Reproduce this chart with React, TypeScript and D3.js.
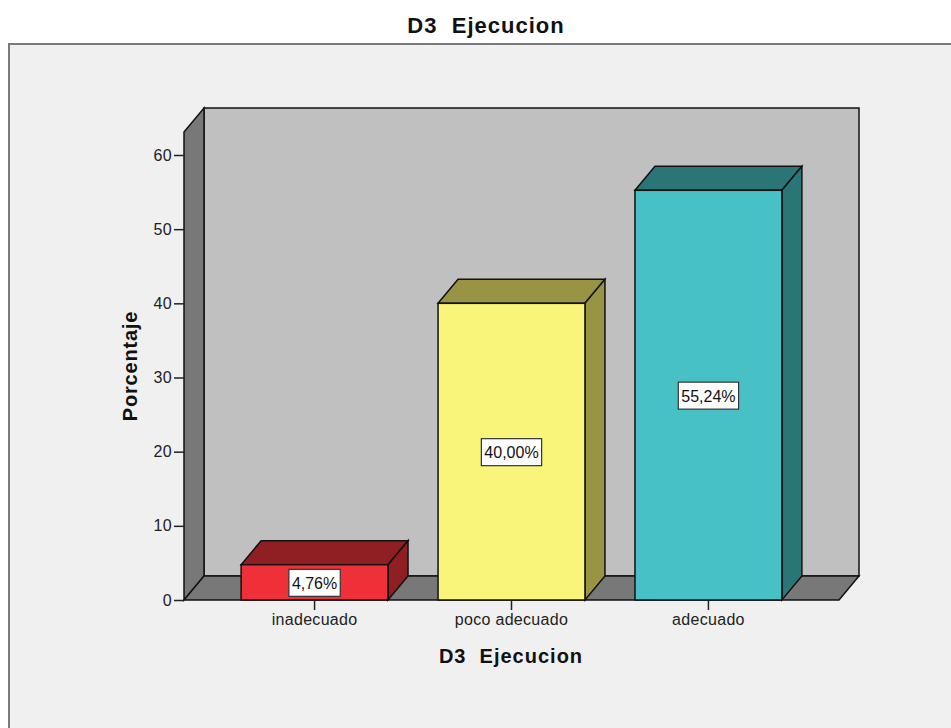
import * as d3 from "d3";
import React, { useEffect, useRef } from "react";

const categories = ["inadecuado", "poco adecuado", "adecuado"];
const percentages = [4.76, 40.0, 55.24];
const valueLabels = ["4,76%", "40,00%", "55,24%"];
const yTicks = [0, 10, 20, 30, 40, 50, 60];
const frontColors = ["#f03039", "#f9f57a", "#48c1c6"];
const darkColors = ["#8f1f23", "#999444", "#2a7676"];

const FONT = "'Liberation Sans', Arial, sans-serif";

function drawChart(svgRef: React.RefObject<SVGSVGElement>) {
    const width = 951;
    const height = 728;
    const svg = d3.select(svgRef.current)
        .attr("width", width)
        .attr("height", height)
        .attr("viewBox", `0 0 ${width} ${height}`);

    svg.selectAll("*").remove();

    // white page + grey panel
    svg.append("rect").attr("width", width).attr("height", height).attr("fill", "#ffffff");
    svg.append("rect")
        .attr("x", 9).attr("y", 44)
        .attr("width", 960).attr("height", 700)
        .attr("fill", "#f0f0f0")
        .attr("stroke", "#7a7a7a")
        .attr("stroke-width", 2);

    svg.append("text")
        .attr("x", 486).attr("y", 33)
        .attr("text-anchor", "middle")
        .style("font", `bold 22px ${FONT}`)
        .style("white-space", "pre")
        .style("letter-spacing", "1px")
        .attr("fill", "#111")
        .text("D3  Ejecucion");

    const x0 = 184, x1 = 839, y0 = 600, yTop = 132;
    const dx = 20, dy = 24;

    const y = d3.scaleLinear().domain([0, 63.1]).range([y0, yTop]);
    const x = d3.scaleBand<string>()
        .domain(categories)
        .range([x0, x1])
        .paddingInner(0.254)
        .paddingOuter(0.29);

    const line = (pts: [number, number][]) => "M" + pts.map(p => p.join(",")).join("L") + "Z";

    // back wall
    svg.append("path")
        .attr("d", line([[x0 + dx, yTop - dy], [x1 + dx, yTop - dy], [x1 + dx, y0 - dy], [x0 + dx, y0 - dy]]))
        .attr("fill", "#c0c0c0").attr("stroke", "#111").attr("stroke-width", 1.5);
    // left wall
    svg.append("path")
        .attr("d", line([[x0, yTop], [x0 + dx, yTop - dy], [x0 + dx, y0 - dy], [x0, y0]]))
        .attr("fill", "#787878").attr("stroke", "#111").attr("stroke-width", 1.5);
    // floor
    svg.append("path")
        .attr("d", line([[x0, y0], [x0 + dx, y0 - dy], [x1 + dx, y0 - dy], [x1, y0]]))
        .attr("fill", "#787878").attr("stroke", "#111").attr("stroke-width", 1.5);

    // y axis
    const yAxis = d3.axisLeft(y).tickValues(yTicks).tickSize(10).tickPadding(2);
    const gy = svg.append("g").attr("transform", `translate(${x0},0)`).call(yAxis);
    gy.select(".domain").remove();
    gy.selectAll(".tick line").attr("stroke", "#222").attr("stroke-width", 1.5);
    gy.selectAll(".tick text").style("font", `16px ${FONT}`).style("letter-spacing", "0.3px").attr("fill", "#222");

    // bars
    const bars = svg.append("g");
    percentages.forEach((v, i) => {
        const bx = x(categories[i]) as number;
        const bw = x.bandwidth();
        const by = y(v);
        const g = bars.append("g");
        g.append("path")
            .attr("d", line([[bx, by], [bx + dx, by - dy], [bx + bw + dx, by - dy], [bx + bw, by]]))
            .attr("fill", darkColors[i]).attr("stroke", "#111").attr("stroke-width", 1.5);
        g.append("path")
            .attr("d", line([[bx + bw, by], [bx + bw + dx, by - dy], [bx + bw + dx, y0 - dy], [bx + bw, y0]]))
            .attr("fill", darkColors[i]).attr("stroke", "#111").attr("stroke-width", 1.5);
        g.append("rect")
            .attr("x", bx).attr("y", by)
            .attr("width", bw).attr("height", y0 - by)
            .attr("fill", frontColors[i]).attr("stroke", "#111").attr("stroke-width", 1.5);

        const cx = bx + bw / 2;
        const cy = (by + y0) / 2;
        const lab = g.append("g");
        const box = lab.append("rect");
        const t = lab.append("text")
            .attr("x", cx).attr("y", cy + 1)
            .attr("text-anchor", "middle")
            .attr("dominant-baseline", "central")
            .style("font", `16px ${FONT}`)
            .attr("fill", "#111")
            .text(valueLabels[i]);
        const bb = (t.node() as SVGTextElement).getBBox();
        box.attr("x", cx - bb.width / 2 - 3).attr("y", cy - 13)
            .attr("width", bb.width + 6).attr("height", 27)
            .attr("fill", "#ffffff").attr("stroke", "#333").attr("stroke-width", 1.2);
    });

    // x axis ticks and labels
    const xAxis = d3.axisBottom(x).tickSize(10).tickPadding(4);
    const gx = svg.append("g").attr("transform", `translate(0,${y0})`).call(xAxis);
    gx.select(".domain").remove();
    gx.selectAll(".tick line").attr("stroke", "#222").attr("stroke-width", 1.5);
    gx.selectAll(".tick text").style("font", `16px ${FONT}`).style("letter-spacing", "0.3px").attr("fill", "#222");

    svg.append("text")
        .attr("x", 511).attr("y", 663)
        .attr("text-anchor", "middle")
        .style("font", `bold 20px ${FONT}`)
        .style("white-space", "pre")
        .style("letter-spacing", "1px")
        .attr("fill", "#111")
        .text("D3  Ejecucion");

    svg.append("text")
        .attr("transform", `translate(137,${(y0 + yTop) / 2}) rotate(-90)`)
        .attr("text-anchor", "middle")
        .style("font", `bold 20px ${FONT}`)
        .style("letter-spacing", "0.8px")
        .attr("fill", "#111")
        .text("Porcentaje");
}

export default function App() {
    const svg = useRef<SVGSVGElement>(null);
    useEffect(() => {
        drawChart(svg);
    });

    return (
        <div style={{ position: "absolute", left: 0, top: 0 }}>
            <svg ref={svg} style={{ display: "block" }}></svg>
        </div>
    );
}
